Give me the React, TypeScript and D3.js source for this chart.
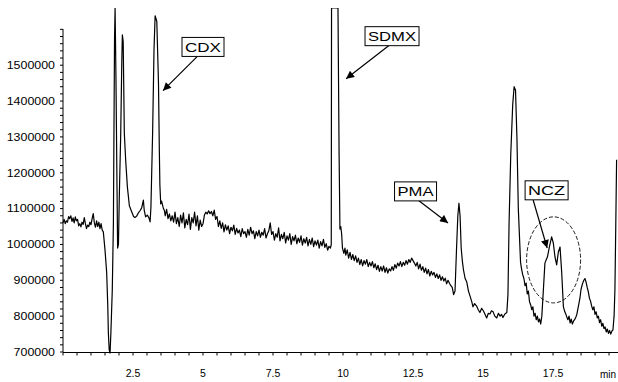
import React from "react";
import * as d3 from "d3";

// chromatogram trace: [retention time (min), intensity (thousand counts)]
const trace: [number, number][] = [
  [0.00,1060],[0.04,1070],[0.08,1058],[0.12,1066],[0.16,1062],[0.20,1078],[0.24,1072],[0.28,1080],[0.32,1064],[0.36,1074],
  [0.40,1060],[0.44,1077],[0.48,1066],[0.52,1070],[0.56,1052],[0.60,1058],[0.64,1049],[0.68,1062],[0.72,1056],[0.76,1075],
  [0.80,1058],[0.84,1044],[0.88,1054],[0.92,1050],[0.96,1062],[1.00,1055],[1.04,1072],[1.08,1086],[1.12,1060],[1.16,1048],
  [1.20,1066],[1.24,1050],[1.28,1062],[1.32,1044],[1.36,1058],[1.40,1040],[1.44,1035],
  [1.50,985],[1.56,921],[1.60,826],[1.62,753],[1.65,706],[1.68,697],[1.71,753],[1.76,873],[1.80,1060],[1.84,1571],
  [1.86,1660],[1.89,1475],[1.93,1150],[1.95,990],[1.98,1000],[2.01,1130],[2.06,1304],[2.10,1510],[2.12,1585],[2.15,1565],
  [2.19,1310],[2.24,1233],[2.30,1160],[2.37,1108],[2.46,1090],[2.52,1078],[2.57,1075],[2.63,1079],[2.69,1088],[2.75,1094],
  [2.81,1102],[2.87,1124],[2.90,1096],[2.95,1077],[3.01,1082],[3.07,1074],[3.11,1063],[3.14,1104],[3.20,1310],[3.25,1543],
  [3.29,1638],[3.35,1622],[3.41,1450],[3.44,1264],[3.46,1166],[3.49,1113],[3.52,1121],[3.58,1102],
  [3.62,1095],[3.65,1080],[3.70,1098],[3.75,1072],[3.80,1085],[3.85,1066],[3.90,1080],[3.95,1062],[4.00,1090],[4.05,1058],
  [4.10,1075],[4.15,1050],[4.20,1082],[4.25,1060],[4.30,1088],[4.35,1046],[4.40,1070],[4.45,1055],[4.50,1085],[4.55,1042],
  [4.60,1075],[4.65,1060],[4.70,1090],[4.75,1052],[4.80,1080],[4.85,1040],[4.90,1068],[4.95,1050],[5.00,1058],[5.05,1082],
  [5.10,1090],[5.15,1085],[5.20,1094],[5.25,1086],[5.30,1092],[5.35,1080],[5.40,1096],[5.45,1070],[5.50,1078],[5.55,1050],
  [5.60,1066],[5.65,1045],[5.70,1060],[5.75,1035],[5.80,1055],[5.85,1040],[5.90,1052],[5.95,1030],[6.00,1048],[6.05,1038],
  [6.10,1054],[6.15,1028],[6.20,1045],[6.25,1032],[6.30,1040],[6.35,1022],[6.40,1044],[6.45,1030],[6.50,1036],[6.55,1020],
  [6.60,1042],[6.65,1026],[6.70,1048],[6.75,1030],[6.80,1038],[6.85,1016],[6.90,1036],[6.95,1024],[7.00,1040],[7.05,1020],
  [7.10,1034],[7.15,1026],[7.20,1044],[7.25,1018],[7.30,1030],[7.35,1038],[7.40,1060],[7.45,1028],[7.50,1036],[7.55,1012],
  [7.60,1030],[7.65,1020],[7.70,1046],[7.75,1010],[7.80,1028],[7.85,1016],[7.90,1034],[7.95,1004],[8.00,1024],[8.05,1012],
  [8.10,1030],[8.15,1000],[8.20,1022],[8.25,1010],[8.30,1026],[8.35,1002],[8.40,1018],[8.45,1006],[8.50,1024],[8.55,998],
  [8.60,1016],[8.65,1004],[8.70,1020],[8.75,996],[8.80,1014],[8.85,1000],[8.90,1018],[8.95,994],[9.00,1010],[9.05,998],
  [9.10,1012],[9.15,990],[9.20,1008],[9.25,996],[9.30,1014],[9.35,992],[9.40,1002],[9.45,984],[9.50,995],[9.55,990],
  [9.58,1000],[9.59,1660],[9.82,1660],[9.86,1250],[9.89,1043],[9.92,1050],[9.95,1030],[9.98,990],
  [10.03,975],[10.07,990],[10.10,970],[10.15,985],[10.20,962],[10.25,978],[10.30,958],[10.35,972],[10.40,955],[10.45,968],
  [10.50,950],[10.55,962],[10.60,944],[10.65,958],[10.70,940],[10.75,955],[10.80,945],[10.85,958],[10.90,938],[10.95,950],
  [11.00,940],[11.05,952],[11.10,935],[11.15,946],[11.20,930],[11.25,942],[11.30,925],[11.35,938],[11.40,926],[11.45,940],
  [11.50,922],[11.55,935],[11.60,920],[11.65,932],[11.70,926],[11.75,938],[11.80,928],[11.85,944],[11.90,934],[11.95,948],
  [12.00,940],[12.05,952],[12.10,938],[12.15,950],[12.20,942],[12.25,955],[12.30,945],[12.35,958],[12.40,950],[12.45,962],
  [12.50,955],[12.55,948],[12.60,940],[12.65,950],[12.70,932],[12.75,945],[12.80,928],[12.85,938],[12.90,922],[12.95,934],
  [13.00,918],[13.05,930],[13.10,912],[13.15,925],[13.20,915],[13.25,922],[13.30,908],[13.35,918],[13.40,905],[13.45,915],
  [13.50,900],[13.55,910],[13.60,898],[13.65,906],[13.70,890],[13.75,900],[13.80,892],[13.85,885],[13.90,880],[13.95,860],
  [14.00,870],[14.05,980],[14.10,1080],[14.14,1115],[14.18,1080],[14.22,990],[14.26,955],[14.30,930],[14.36,905],[14.42,895],
  [14.48,870],[14.54,855],[14.60,840],[14.64,826],[14.70,835],[14.77,828],[14.83,818],[14.89,810],[14.95,822],[15.01,815],
  [15.07,805],[15.13,795],[15.19,808],[15.25,806],[15.30,815],[15.36,812],[15.42,800],[15.49,795],[15.55,808],[15.61,800],
  [15.66,805],[15.71,796],[15.78,806],[15.85,810],
  [15.89,860],[15.93,1060],[15.99,1250],[16.06,1390],[16.11,1440],[16.16,1430],[16.21,1300],[16.26,1100],[16.34,950],
  [16.38,930],[16.42,915],[16.46,905],[16.50,885],[16.54,892],[16.58,862],[16.62,870],[16.66,840],[16.70,832],[16.74,818],
  [16.78,826],[16.82,800],[16.86,808],[16.90,790],[16.94,800],[16.98,784],[17.02,792],[17.06,778],[17.10,800],
  [17.16,880],[17.21,948],[17.26,958],[17.30,965],[17.37,993],[17.45,1021],[17.51,1004],[17.57,965],[17.63,943],[17.69,979],
  [17.75,993],[17.81,921],[17.87,826],[17.92,812],[17.96,805],[17.99,798],[18.03,790],[18.07,800],[18.11,781],[18.15,792],
  [18.19,778],[18.23,786],[18.27,790],[18.31,796],[18.35,805],[18.40,825],[18.46,850],[18.50,875],[18.55,890],[18.60,900],
  [18.64,905],[18.68,895],[18.72,880],[18.76,868],[18.80,850],[18.84,842],[18.88,828],[18.92,818],[18.96,826],[19.00,805],
  [19.04,812],[19.08,795],[19.12,800],[19.16,782],[19.20,790],[19.24,772],[19.28,780],[19.32,765],[19.36,770],[19.40,756],
  [19.44,764],[19.48,752],[19.52,760],[19.56,750],[19.60,758],[19.64,762],[19.68,800],[19.71,873],[19.74,1050],[19.77,1236],
];

const xLabelValues = [2.5, 5, 7.5, 10, 12.5, 15, 17.5];
const xTickLabels = ["2.5", "5", "7.5", "10", "12.5", "15", "17.5"];
const yTickValues = [700, 800, 900, 1000, 1100, 1200, 1300, 1400, 1500];
const yTickLabels = ["700000", "800000", "900000", "1000000", "1100000", "1200000", "1300000", "1400000", "1500000"];
const xUnit = "min";

// annotation label, box centre, arrow start and arrow tip in data units (min, thousand counts)
const peakNames = ["CDX", "SDMX", "PMA", "NCZ"];
const boxCentres: [number, number][] = [[5.0, 1551], [11.75, 1581], [12.59, 1148], [17.27, 1151]];
const arrowFrom: [number, number][] = [[4.79, 1524], [11.64, 1555], [12.71, 1122], [16.79, 1124]];
const arrowTo: [number, number][] = [[3.57, 1429], [10.11, 1462], [13.75, 1060], [17.29, 990]];
const nczRegion = { t: 17.52, v: 957, dt: 0.964, dv: 120 };

// styles
const textW: Record<string, number> = { CDX: 36, SDMX: 48, PMA: 36, NCZ: 37 };
const FONT = "'Liberation Sans', Arial, sans-serif";

export default function App() {
  const x = d3.scaleLinear().domain([0, 19.82]).range([63, 618]);
  const y = d3.scaleLinear().domain([700, 1601]).range([352, 29]);
  const line = d3.line<[number, number]>().x((d) => x(d[0])).y((d) => y(d[1]));
  const xMinor = d3.range(0, 19.51, 0.5);
  const yMinor = d3.range(700, 1601, 20);

  return (
    <svg width={618} height={382} style={{ position: "absolute", left: 0, top: 0, background: "#fff" }}>
      <defs>
        <clipPath id="plotclip">
          <rect x={60} y={8} width={560} height={360} />
        </clipPath>
        <marker id="ah" viewBox="0 0 10 10" refX={10} refY={5} markerWidth={9} markerHeight={8}
          markerUnits="userSpaceOnUse" orient="auto">
          <path d="M0,0 L10,5 L0,10 z" fill="#000" />
        </marker>
      </defs>
      <rect x={0} y={0} width={618} height={382} fill="#fff" />
      {/* y axis */}
      <line x1={63} x2={63} y1={y(1601)} y2={352} stroke="#000" strokeWidth={1} />
      {yMinor.map((v) => (
        <line key={"ym" + v} x1={60} x2={63} y1={y(v)} y2={y(v)} stroke="#000" strokeWidth={1} />
      ))}
      {yTickValues.map((v, i) => (
        <text key={"yl" + v} x={55} y={y(v) + 3.8} textAnchor="end" fontFamily={FONT} fontSize={10.5}
          textLength={yTickLabels[i].length * 6.9} lengthAdjust="spacingAndGlyphs" fill="#000">
          {yTickLabels[i]}
        </text>
      ))}
      {/* x axis */}
      <line x1={63} x2={618} y1={352.5} y2={352.5} stroke="#000" strokeWidth={1} />
      {xMinor.map((t) => (
        <line key={"xm" + t} x1={x(t)} x2={x(t)} y1={352.5} y2={355.5} stroke="#000" strokeWidth={1} />
      ))}
      {xLabelValues.map((t, i) => (
        <text key={"xl" + t} x={x(t)} y={377} textAnchor="middle" fontFamily={FONT} fontSize={10.5} fill="#000">
          {xTickLabels[i]}
        </text>
      ))}
      <text x={616} y={378} textAnchor="end" fontFamily={FONT} fontSize={10} fill="#000">{xUnit}</text>

      {/* trace */}
      <g clipPath="url(#plotclip)">
        <path d={line(trace) || ""} fill="none" stroke="#000" strokeWidth={1.2} strokeLinejoin="round" />
      </g>

      {/* NCZ dashed ellipse */}
      <ellipse cx={x(nczRegion.t)} cy={y(nczRegion.v)}
        rx={x(nczRegion.t + nczRegion.dt) - x(nczRegion.t)}
        ry={y(nczRegion.v - nczRegion.dv) - y(nczRegion.v)}
        fill="none" stroke="#000" strokeWidth={0.9} strokeDasharray="4,2" />

      {/* annotations */}
      {peakNames.map((name, i) => {
        const cx = x(boxCentres[i][0]);
        const cy = y(boxCentres[i][1]);
        const w = textW[name] + 6;
        const h = 19;
        return (
          <g key={name}>
            <line x1={x(arrowFrom[i][0])} y1={y(arrowFrom[i][1])} x2={x(arrowTo[i][0])} y2={y(arrowTo[i][1])}
              stroke="#000" strokeWidth={1.2} markerEnd="url(#ah)" />
            <rect x={cx - w / 2} y={cy - h / 2} width={w} height={h} fill="#fff" stroke="#000" strokeWidth={1} />
            <text x={cx} y={cy + 4.8} textAnchor="middle" fontFamily={FONT} fontSize={13}
              textLength={textW[name]} lengthAdjust="spacingAndGlyphs" fill="#000">
              {name}
            </text>
          </g>
        );
      })}
    </svg>
  );
}
